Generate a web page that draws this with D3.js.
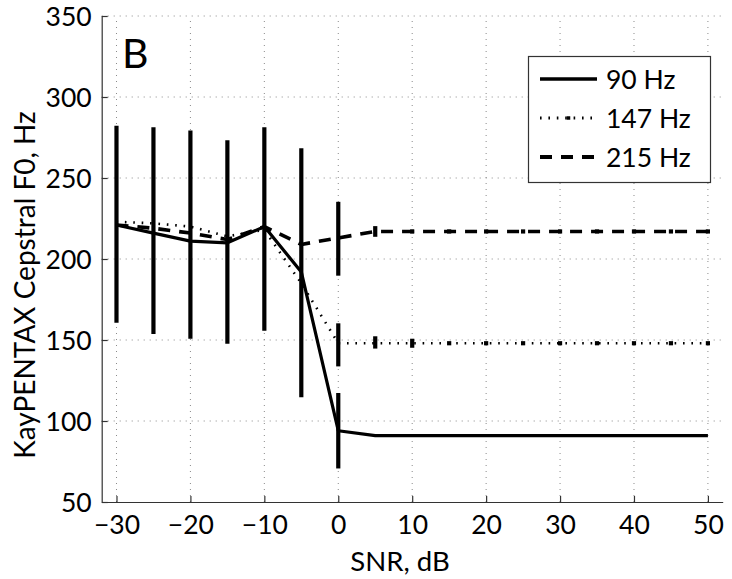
<!DOCTYPE html>
<html>
<head>
<meta charset="utf-8">
<script src="https://cdn.jsdelivr.net/npm/d3@7"></script>
<style>
  html, body { margin: 0; padding: 0; background: #fff; }
  svg text { font-family: Lato, "Open Sans", sans-serif; fill: #000; }
</style>
</head>
<body>
<svg id="chart" width="732" height="579"></svg>
<script>
// ---- data ----
const snr = [-30, -25, -20, -15, -10, -5, 0, 5, 10, 15, 20, 25, 30, 35, 40, 45, 50];
const f0_90  = [221, 216, 211, 210, 220, 192, 94, 91, 91, 91, 91, 91, 91, 91, 91, 91, 91];
const f0_147 = [223, 222, 220, 214, 218, 185, 148, 148, 148, 148, 148, 148, 148, 148, 148, 148, 148];
const f0_215 = [221, 219, 216, 212, 220, 209, 213, 217, 217, 217, 217, 217, 217, 217, 217, 217, 217];
// error-bar extents (low / high); null where not drawn
const lo_90  = [162, 155, 152, 149, 157, 116, 72, null, null, null, null, null, null, null, null, null, null];
const hi_90  = [281, 280, 278, 272, 280, 267, 116, null, null, null, null, null, null, null, null, null, null];
const lo_147 = [null, null, null, null, null, null, 135, 146, 146.5, 148, 148, 148, 148, 148, 148, 148, 148];
const hi_147 = [null, null, null, null, null, null, 159, 151, 149.5, 148, 148, 148, 148, 148, 148, 148, 148];
const lo_215 = [null, null, null, null, null, null, 191, 215, 217, 217, 217, 217, 217, 217, 217, 217, 217];
const hi_215 = [null, null, null, null, null, null, 234, 219, 217, 217, 217, 217, 217, 217, 217, 217, 217];
const seriesNames = ["90 Hz", "147 Hz", "215 Hz"];
const xTicks = [-30, -20, -10, 0, 10, 20, 30, 40, 50];
const yTicks = [50, 100, 150, 200, 250, 300, 350];
const xLabel = "SNR, dB";
const yLabel = "KayPENTAX Cepstral F0, Hz";
const panelLabel = "B";

// ---- layout ----
const L = 101.7, R = 722.7, T = 16, B = 502;
const x = d3.scaleLinear().domain([-32, 52]).range([L, R]);
const y = d3.scaleLinear().domain([50, 350]).range([B, T]);
const svg = d3.select("#chart");

const styles = [
  { w: 3.2, dash: null },
  { w: 2.6, dash: "1.6,6.8" },
  { w: 3.6, dash: "12,9" }
];
const series = [
  { name: seriesNames[0], v: f0_90, lo: lo_90, hi: hi_90, s: styles[0] },
  { name: seriesNames[1], v: f0_147, lo: lo_147, hi: hi_147, s: styles[1] },
  { name: seriesNames[2], v: f0_215, lo: lo_215, hi: hi_215, s: styles[2] }
];

// grid
const grid = svg.append("g").attr("stroke", "#8a8a8a").attr("stroke-width", 1).attr("stroke-dasharray", "1,5");
grid.selectAll("line.gx").data(xTicks).join("line")
  .attr("x1", d => x(d)).attr("x2", d => x(d)).attr("y1", B).attr("y2", T);
grid.selectAll("line.gy").data(yTicks.filter(d => d > 50)).join("line")
  .attr("x1", L).attr("x2", R).attr("y1", d => y(d)).attr("y2", d => y(d));

// axes
const xAxis = svg.append("g").attr("transform", `translate(0,${B})`)
  .call(d3.axisBottom(x).tickValues(xTicks).tickSizeInner(-6).tickSizeOuter(0).tickPadding(13));
const yAxis = svg.append("g").attr("transform", `translate(${L},0)`)
  .call(d3.axisLeft(y).tickValues(yTicks).tickSizeInner(-6).tickSizeOuter(0).tickPadding(10));
[xAxis, yAxis].forEach(a => {
  a.select(".domain").attr("stroke", "#333").attr("stroke-width", 1.2);
  a.selectAll(".tick line").attr("stroke", "#333").attr("stroke-width", 1.2);
  a.selectAll(".tick text").attr("font-size", 26.5).attr("font-family", "Lato, 'Open Sans', sans-serif").attr("fill", "#000");
});
yAxis.selectAll(".tick text").attr("dy", "0.36em");

// series: error bars then lines
const line = d3.line().x((d, i) => x(snr[i])).y(d => y(d));
series.forEach(se => {
  const g = svg.append("g");
  const bars = snr.map((s, i) => ({ s, lo: se.lo[i], hi: se.hi[i] })).filter(d => d.lo != null);
  g.selectAll("line").data(bars).join("line")
    .attr("x1", d => x(d.s)).attr("x2", d => x(d.s))
    .attr("y1", d => y(d.lo)).attr("y2", d => y(d.hi))
    .attr("stroke", "#000").attr("stroke-width", 4.2).attr("stroke-linecap", "square");
  g.append("path").datum(se.v).attr("d", line)
    .attr("fill", "none").attr("stroke", "#000").attr("stroke-width", se.s.w)
    .attr("stroke-dasharray", se.s.dash).attr("stroke-linejoin", "round");
});

// panel label
svg.append("text").attr("x", 122).attr("y", 68).attr("font-size", 41).text(panelLabel);

// legend
const lg = svg.append("g");
lg.append("rect").attr("x", 528.5).attr("y", 56.5).attr("width", 182).attr("height", 126)
  .attr("fill", "#fff").attr("stroke", "#333").attr("stroke-width", 1.2);
const rowsY = [79, 118, 157];
series.forEach((se, i) => {
  lg.append("line").attr("x1", 540).attr("x2", 597).attr("y1", rowsY[i]).attr("y2", rowsY[i])
    .attr("stroke", "#000").attr("stroke-width", se.s.w + 0.3).attr("stroke-dasharray", se.s.dash);
  lg.append("text").attr("x", 606).attr("y", rowsY[i]).attr("dy", "0.36em")
    .attr("font-size", 26.5).text(se.name);
});
lg.append("line").attr("x1", 568.5).attr("x2", 568.5).attr("y1", 118).attr("y2", 118)
  .attr("stroke", "#000").attr("stroke-width", 3.5).attr("stroke-linecap", "square");

// axis titles
svg.append("text").attr("x", 400).attr("y", 571).attr("text-anchor", "middle")
  .attr("font-size", 27.5).text(xLabel);
svg.append("text").attr("transform", `translate(35,285) rotate(-90)`)
  .attr("text-anchor", "middle").attr("font-size", 28).text(yLabel);
</script>
</body>
</html>
